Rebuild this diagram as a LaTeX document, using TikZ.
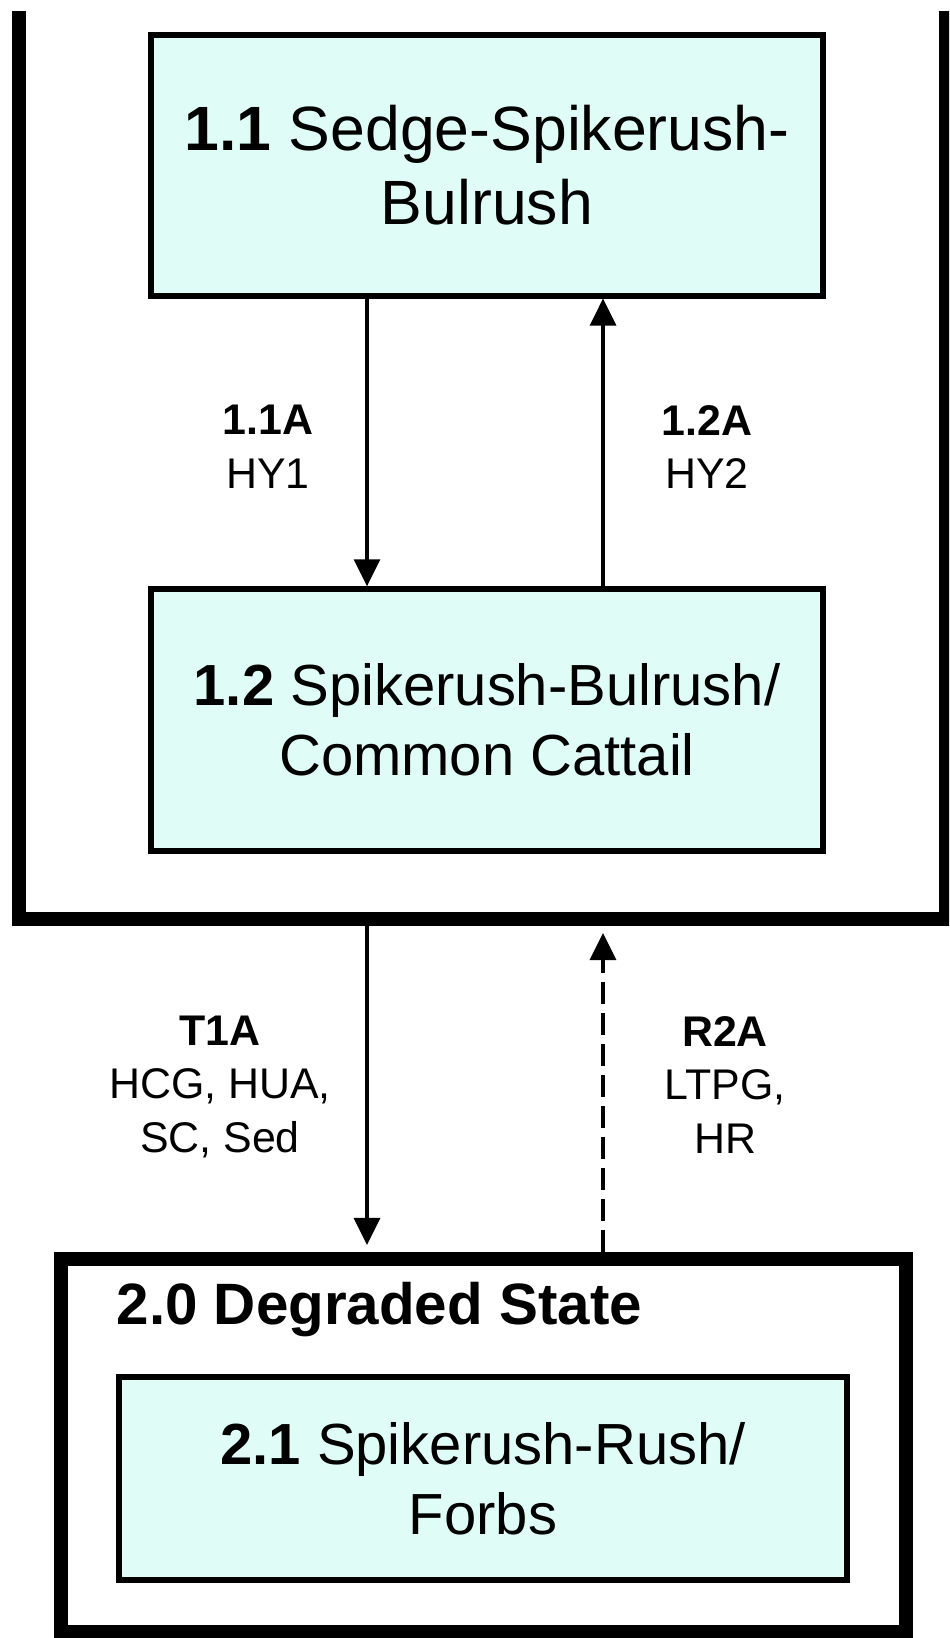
\documentclass[tikz,border=0pt]{standalone}
\usepackage{fontspec}
\setmainfont{Liberation Sans}
\usetikzlibrary{arrows.meta, positioning}
\definecolor{boxCyan}{HTML}{DFFCF6}
\tikzset{
  statebox/.style = {draw=black, line width=4pt, inner sep=0pt},
  commbox/.style  = {draw=black, fill=boxCyan, line width=1.5pt, align=center,
                     inner sep=0pt, font=\fontsize{16.5}{20}\selectfont},
  trarrow/.style  = {-{Triangle[length=0.27cm, width=0.26cm]}, line width=0.9pt},
  trdash/.style   = {trarrow, dash pattern=on 0.22cm off 0.09cm},
  trlbl/.style    = {align=center, inner sep=0pt, font=\fontsize{12.2}{15.3}\selectfont},
  slbl/.style     = {inner sep=0pt, font=\fontsize{16.6}{19}\selectfont\bfseries},
}

\begin{document}
\begin{tikzpicture}
\useasboundingbox (0,0) rectangle (9.49,16.38);
% reference state: its top runs off the picture
\begin{scope}
  \clip (0,0) rectangle (9.49,16.26);
  \node[statebox, anchor=south, minimum width=9.27cm, minimum height=10cm] (s10) at (4.825,7.12) {};
\end{scope}
\node[commbox, minimum width=6.72cm, minimum height=2.61cm, font=\fontsize{17.8}{21}\selectfont] (c11) at (4.87,14.725) {\textbf{1.1} Sedge-Spikerush-\\Bulrush};
\node[commbox, minimum width=6.72cm, minimum height=2.62cm] (c12) at (4.87,9.18) {\textbf{1.2} Spikerush-Bulrush/\\Common Cattail};
% degraded state
\node[statebox, minimum width=8.45cm, minimum height=3.73cm] (s20) at (4.835,1.925) {};
\node[slbl, anchor=base west] (s20lbl) at (1.16,3.13) {2.0 Degraded State};
\node[commbox, minimum width=7.28cm, minimum height=2.03cm] (c21) at (4.83,1.595) {\textbf{2.1} Spikerush-Rush/\\Forbs};
% pathways
\coordinate (xl) at (3.67,0);
\coordinate (xr) at (6.03,0);
\draw[trarrow] (c11.south -| xl) -- (c12.north -| xl);
\draw[trarrow] (c12.north -| xr) -- (c11.south -| xr);
\draw[trarrow, shorten >=2pt] (s10.south -| xl) -- (s20.north -| xl);
\draw[trdash, shorten >=2pt] (s20.north -| xr) -- (s10.south -| xr);
\node[trlbl] (l11a) at (2.68,11.91) {\textbf{1.1A}\\HY1};
\node[trlbl] (l12a) at (7.07,11.91) {\textbf{1.2A}\\HY2};
\node[trlbl] (lt1a) at (2.20,5.51) {\textbf{T1A}\\HCG, HUA,\\SC, Sed};
\node[trlbl] (lr2a) at (7.25,5.53) {\textbf{R2A}\\LTPG,\\HR};
\end{tikzpicture}
\end{document}
